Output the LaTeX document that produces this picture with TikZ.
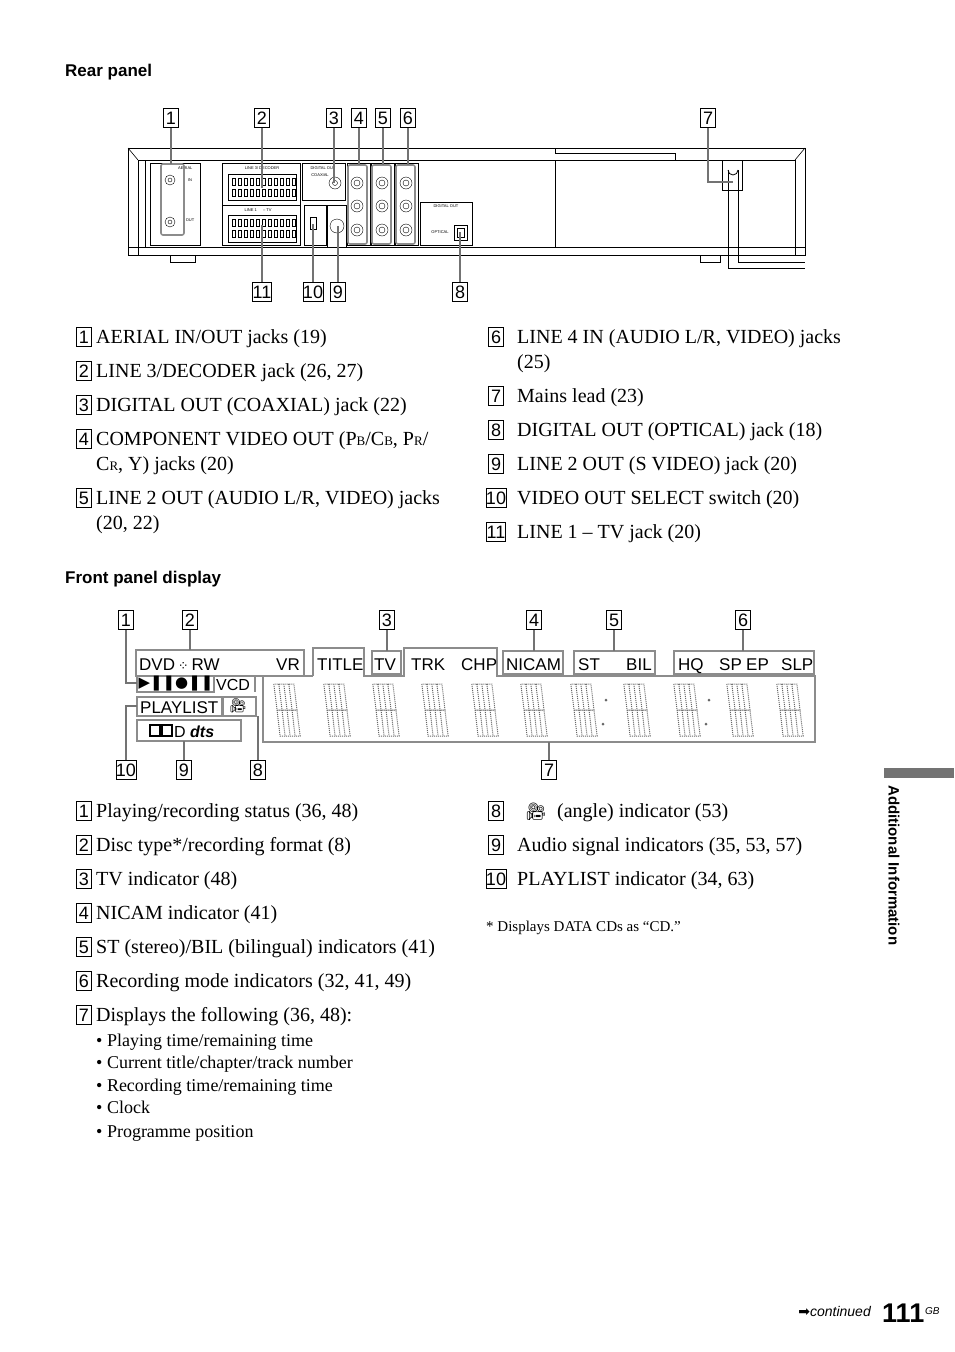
\documentclass[tikz,border=0pt]{standalone}
\usepackage{fontspec}
\setmainfont{Liberation Serif}
\setsansfont{Liberation Sans}
\newfontfamily\djv{DejaVu Sans}
\newfontfamily\emo{Noto Emoji}
\begin{document}
\begin{tikzpicture}[x=1pt,y=-1pt,
  numbox/.style={draw,line width=0.8pt,minimum width=15pt,minimum height=19pt,inner sep=0pt,font=\sffamily\fontsize{18}{18}\selectfont},
  body/.style={anchor=base west,inner sep=0pt,font=\fontsize{20}{22}\selectfont},
  bul/.style={anchor=base west,inner sep=0pt,font=\fontsize{18}{20}\selectfont},
  dsp/.style={draw=black!45,line width=2.2pt},
  dtxt/.style={anchor=base west,inner sep=0pt,font=\sffamily\fontsize{17}{17}\selectfont},
  lead/.style={line width=1.6pt,black!55},
  hd/.style={anchor=base west,inner sep=0pt,font=\sffamily\bfseries\fontsize{17}{17}\selectfont},
  tiny/.style={inner sep=0pt,font=\sffamily\fontsize{4}{4}\selectfont}]
\useasboundingbox (0,0) rectangle (954,1352);
% headings
\node[hd] (h1) at (65,76) {Rear panel};
\node[hd] (h2) at (65,583) {Front panel display};
% ---------------- rear panel drawing
\draw[line width=1pt] (128,255) -- (128,148) -- (805,148) -- (805,255) -- cycle;
\draw[line width=0.6pt] (138,255) -- (138,160) -- (795,160) -- (795,255);
\draw[line width=0.6pt] (128,148)--(138,160) (805,148)--(795,160);
\draw[line width=0.6pt] (128,247) -- (805,247);
\draw[line width=0.6pt] (145,160) rectangle (555,247);
\draw[line width=0.6pt] (555,153) -- (555,148) (675,153)--(675,160) (555,153)--(675,153);
\draw[line width=0.8pt] (170,255) -- (170,262) -- (195,262) -- (195,255);
\draw[line width=0.8pt] (700,255) -- (700,262) -- (720,262) -- (720,255);
% aerial
\draw[line width=0.5pt] (150,163) rectangle (200,245);
\node[tiny,anchor=west] (aer) at (178,168) {AERIAL};
\node[tiny] (ain) at (190,180) {IN};
\node[tiny] (aout) at (190,220) {OUT};
\foreach \yy in {180,222} {\draw (170,\yy) circle (5); \draw (170,\yy) circle (2);}
\draw[dsp,line width=1.6pt,rounded corners=2pt] (161,164) rectangle (184,235);
% scarts
\draw[line width=0.5pt] (222,163) rectangle (300,205);
\node[tiny] (l3) at (262,168) {LINE 3/ DECODER};
\draw (228,174) rectangle (296,200);
\draw[line width=0.5pt] (222,205) rectangle (300,245);
\node[tiny] (l1) at (258,210) {LINE 1 \quad\ -- TV};
\draw (228,215) rectangle (296,242);
\foreach \xx in {232,238,...,292} {\draw[line width=0.4pt] (\xx,178) rectangle +(3,7); \draw[line width=0.4pt] (\xx,189) rectangle +(3,7);
  \draw[line width=0.4pt] (\xx,219) rectangle +(3,7); \draw[line width=0.4pt] (\xx,230) rectangle +(3,7);}
% digital coax
\draw[line width=0.5pt] (302,163) rectangle (345,200);
\node[tiny] (dco) at (323,168) {DIGITAL OUT};
\node[tiny] (coax) at (320,175) {COAXIAL};
\draw (335,183) circle (6); \draw (335,183) circle (2.5);
% switch & svideo
\draw[line width=0.5pt] (304,205) rectangle (326,245);
\draw (310,217) rectangle (316,229);
\draw[line width=0.5pt] (327,205) rectangle (346,247);
\draw (337,226) circle (7);
% rca columns
\foreach \xx in {357,382,406} {\foreach \yy in {183,206,230} {\draw (\xx,\yy) circle (6); \draw (\xx,\yy) circle (3);}}
\draw[line width=0.5pt] (347,163) rectangle (370,245) (371,163) rectangle (394,245) (395,163) rectangle (418,245);
\foreach \xx in {348,372,396} \draw[dsp,line width=1.6pt,rounded corners=2pt] (\xx,165) rectangle ++(19,79);
% optical
\draw[line width=0.5pt] (420,202) rectangle (472,245);
\node[tiny] (dop) at (446,206) {DIGITAL OUT};
\node[tiny] (opt) at (440,232) {OPTICAL};
\draw (454,225) rectangle (467,240); \draw (457,228) rectangle (464,237);
% power cord
\draw[line width=0.6pt] (722,160) rectangle (742,190);
\draw[line width=1pt] (728,170) -- (728,268) -- (805,268);
\draw[line width=1pt] (738,170) -- (738,262) -- (805,262);
\draw[line width=0.8pt] (728,170) arc (180:0:5);
% callouts rear
\node[numbox] (r1) at (171,118) {1};
\node[numbox] (r2) at (262,118) {2};
\node[numbox] (r3) at (334,118) {3};
\node[numbox] (r4) at (359,118) {4};
\node[numbox] (r5) at (383,118) {5};
\node[numbox] (r6) at (408,118) {6};
\node[numbox] (r7) at (708,118) {7};
\node[numbox] (r11) at (262,292) {11};
\node[numbox] (r10) at (313,292) {10};
\node[numbox] (r9) at (338,292) {9};
\node[numbox] (r8) at (460,292) {8};
\coordinate (c1) at (171,164); \coordinate (c2) at (262,188); \coordinate (c3) at (334,183);
\coordinate (c4) at (359,165); \coordinate (c5) at (383,165); \coordinate (c6) at (408,165);
\coordinate (c7a) at (708,182); \coordinate (c7) at (733,182);
\coordinate (c11) at (262,225); \coordinate (c10) at (313,224); \coordinate (c9) at (338,226); \coordinate (c8) at (460,232);
\draw[lead] (r1) -- (c1); \draw[lead] (r2) -- (c2); \draw[lead] (r3) -- (c3);
\draw[lead] (r4) -- (c4); \draw[lead] (r5) -- (c5); \draw[lead] (r6) -- (c6);
\draw[lead] (r7) -- (c7a) -- (c7);
\draw[lead] (r11) -- (c11); \draw[lead] (r10) -- (c10); \draw[lead] (r9) -- (c9); \draw[lead] (r8) -- (c8);
% ---------------- rear list
\node[numbox] (a1) at (84,337) {1}; \node[body] (t1) at (96,343) {AERIAL IN/OUT jacks (19)};
\node[numbox] (a2) at (84,371) {2}; \node[body] (t2) at (96,377) {LINE 3/DECODER jack (26, 27)};
\node[numbox] (a3) at (84,405) {3}; \node[body] (t3) at (96,411) {DIGITAL OUT (COAXIAL) jack (22)};
\node[numbox] (a4) at (84,439) {4}; \node[body] (t4) at (96,445) {COMPONENT VIDEO OUT (P{\fontsize{13}{13}\selectfont B}/C{\fontsize{13}{13}\selectfont B}, P{\fontsize{13}{13}\selectfont R}/};
\node[body] (t4b) at (96,470) {C{\fontsize{13}{13}\selectfont R}, Y) jacks (20)};
\node[numbox] (a5) at (84,498) {5}; \node[body] (t5) at (96,504) {LINE 2 OUT (AUDIO L/R, VIDEO) jacks};
\node[body] (t5b) at (96,529) {(20, 22)};
\node[numbox] (a6) at (496,337) {6}; \node[body] (t6) at (517,343) {LINE 4 IN (AUDIO L/R, VIDEO) jacks};
\node[body] (t6b) at (517,368) {(25)};
\node[numbox] (a7) at (496,396) {7}; \node[body] (t7) at (517,402) {Mains lead (23)};
\node[numbox] (a8) at (496,430) {8}; \node[body] (t8) at (517,436) {DIGITAL OUT (OPTICAL) jack (18)};
\node[numbox] (a9) at (496,464) {9}; \node[body] (t9) at (517,470) {LINE 2 OUT (S VIDEO) jack (20)};
\node[numbox] (a10) at (496,498) {10}; \node[body] (t10) at (517,504) {VIDEO OUT SELECT switch (20)};
\node[numbox] (a11) at (496,532) {11}; \node[body] (t11) at (517,538) {LINE 1 -- TV jack (20)};
% ---------------- front display
\draw[dsp] (136,650) rectangle (304,676);
\node[dtxt] (dvd) at (139,670) {DVD\,{\djv\fontsize{13}{13}\selectfont ⁘}\,RW};
\node[dtxt] (vr) at (276,670) {VR};
\draw[dsp] (137,676) rectangle (214,692);
\node[inner sep=0pt,font=\djv\fontsize{15}{15}\selectfont] (play) at (176,684) {▶❚❚●❚❚};
\draw[dsp] (214,692) -- (214,676) (255,676) -- (255,692);
\node[dtxt,font=\sffamily\fontsize{16}{16}\selectfont] (vcd) at (216,690) {VCD};
\draw[dsp] (313,676) -- (313,648) -- (364,648) -- (364,676) -- (404,676) -- (404,648) -- (497,648) -- (497,676) -- (815,676) -- (815,742) -- (263,742) -- (263,676) -- (313,676);
\node[dtxt] (title) at (317,670) {TITLE};
\draw[dsp] (372,651) rectangle (401,674); \node[dtxt] (tv) at (374,670) {TV};
\node[dtxt] (trk) at (411,670) {TRK}; \node[dtxt] (chp) at (461,670) {CHP};
\draw[dsp] (503,651) rectangle (563,674); \node[dtxt] (nicam) at (506,670) {NICAM};
\draw[dsp] (574,651) rectangle (655,674); \node[dtxt] (st) at (578,670) {ST}; \node[dtxt] (bil) at (626,670) {BIL};
\draw[dsp] (674,651) rectangle (814,674); \node[dtxt] (hq) at (678,670) {HQ}; \node[dtxt] (sp) at (719,670) {SP}; \node[dtxt] (ep) at (746,670) {EP}; \node[dtxt] (slp) at (781,670) {SLP};
\draw[dsp] (137,697) rectangle (222,716); \node[dtxt] (pl) at (140,713) {PLAYLIST};
\draw[dsp] (223,697) rectangle (256,716);
\node[inner sep=0pt,font=\emo\fontsize{14}{14}\selectfont] (ang) at (238,706) {🎥};
\draw[dsp] (137,720) rectangle (241,741);
\draw[line width=1.3pt] (150,725) rectangle (160,736) (162,725) rectangle (172,736);
\node[anchor=base west,inner sep=0pt,font=\sffamily\fontsize{16}{16}\selectfont] (dd) at (174,737) {D \textbf{\itshape dts}};
% segment digits
\foreach \xx in {287,337,386,435,485,534,584,637,687,740,790} {
  \begin{scope}[shift={(\xx,710)},xslant=-0.12]
    \draw[black!60,densely dotted,line width=1pt] (-10,-26) rectangle (10,0) (-10,0) rectangle (10,26) (-5,-26)--(-5,26) (5,-26)--(5,26) (0,-26) -- (0,26);
  \end{scope}}
\foreach \xx in {606,709} {\fill[black!60] (\xx,700) circle (1.5) (\xx-3,724) circle (1.5);}
% callouts front
\node[numbox] (f1) at (126,620) {1};
\node[numbox] (f2) at (190,620) {2};
\node[numbox] (f3) at (387,620) {3};
\node[numbox] (f4) at (534,620) {4};
\node[numbox] (f5) at (614,620) {5};
\node[numbox] (f6) at (743,620) {6};
\node[numbox] (f10) at (126,770) {10};
\node[numbox] (f9) at (184,770) {9};
\node[numbox] (f8) at (258,770) {8};
\node[numbox] (f7) at (549,770) {7};
\coordinate (e1a) at (126,683); \coordinate (e1) at (137,683);
\coordinate (e2) at (190,650); \coordinate (e3) at (387,651); \coordinate (e4) at (534,651);
\coordinate (e5) at (614,651); \coordinate (e6) at (743,651);
\coordinate (e10a) at (126,706); \coordinate (e10) at (137,706);
\coordinate (e9) at (184,741); \coordinate (e8) at (258,716); \coordinate (e7) at (549,742);
\draw[lead] (f1) -- (e1a) -- (e1); \draw[lead] (f2) -- (e2); \draw[lead] (f3) -- (e3);
\draw[lead] (f4) -- (e4); \draw[lead] (f5) -- (e5); \draw[lead] (f6) -- (e6);
\draw[lead] (f10) -- (e10a) -- (e10); \draw[lead] (f9) -- (e9); \draw[lead] (f8) -- (e8); \draw[lead] (f7) -- (e7);
% ---------------- front list
\node[numbox] (b1) at (84,811) {1}; \node[body] (u1) at (96,817) {Playing/recording status (36, 48)};
\node[numbox] (b2) at (84,845) {2}; \node[body] (u2) at (96,851) {Disc type*/recording format (8)};
\node[numbox] (b3) at (84,879) {3}; \node[body] (u3) at (96,885) {TV indicator (48)};
\node[numbox] (b4) at (84,913) {4}; \node[body] (u4) at (96,919) {NICAM indicator (41)};
\node[numbox] (b5) at (84,947) {5}; \node[body] (u5) at (96,953) {ST (stereo)/BIL (bilingual) indicators (41)};
\node[numbox] (b6) at (84,981) {6}; \node[body] (u6) at (96,987) {Recording mode indicators (32, 41, 49)};
\node[numbox] (b7) at (84,1015) {7}; \node[body] (u7) at (96,1021) {Displays the following (36, 48):};
\node[bul] (v1) at (96,1046) {\textbullet\ Playing time/remaining time};
\node[bul] (v2) at (96,1068) {\textbullet\ Current title/chapter/track number};
\node[bul] (v3) at (96,1091) {\textbullet\ Recording time/remaining time};
\node[bul] (v4) at (96,1113) {\textbullet\ Clock};
\node[bul] (v5) at (96,1137) {\textbullet\ Programme position};
\node[numbox] (b8) at (496,811) {8}; \node[body] (u8) at (517,817) {\hspace{40pt}(angle) indicator (53)};
\node[inner sep=0pt,font=\emo\fontsize{17}{17}\selectfont] (ang2) at (536,812) {🎥};
\node[numbox] (b9) at (496,845) {9}; \node[body] (u9) at (517,851) {Audio signal indicators (35, 53, 57)};
\node[numbox] (b10) at (496,879) {10}; \node[body] (u10) at (517,885) {PLAYLIST indicator (34, 63)};
\node[anchor=base west,inner sep=0pt,font=\fontsize{15}{15}\selectfont] (note) at (486,931) {* Displays DATA CDs as “CD.”};
% side tab
\fill[black!55] (884,768) rectangle (954,778);
\node[rotate=-90,anchor=west,inner sep=0pt,font=\sffamily\bfseries\fontsize{15}{15}\selectfont] (side) at (894,785) {Additional Information};
% footer
\node[anchor=base east,inner sep=0pt,font=\sffamily\itshape\fontsize{14}{14}\selectfont] (cont) at (871,1316) {{\djv\upshape ➡}continued};
\node[anchor=base west,inner sep=0pt,font=\sffamily\bfseries\fontsize{27}{27}\selectfont] (pg) at (882,1322) {111};
\node[anchor=base west,inner sep=0pt,font=\sffamily\itshape\fontsize{10}{10}\selectfont] (gb) at (925,1314) {GB};
\end{tikzpicture}
\end{document}
